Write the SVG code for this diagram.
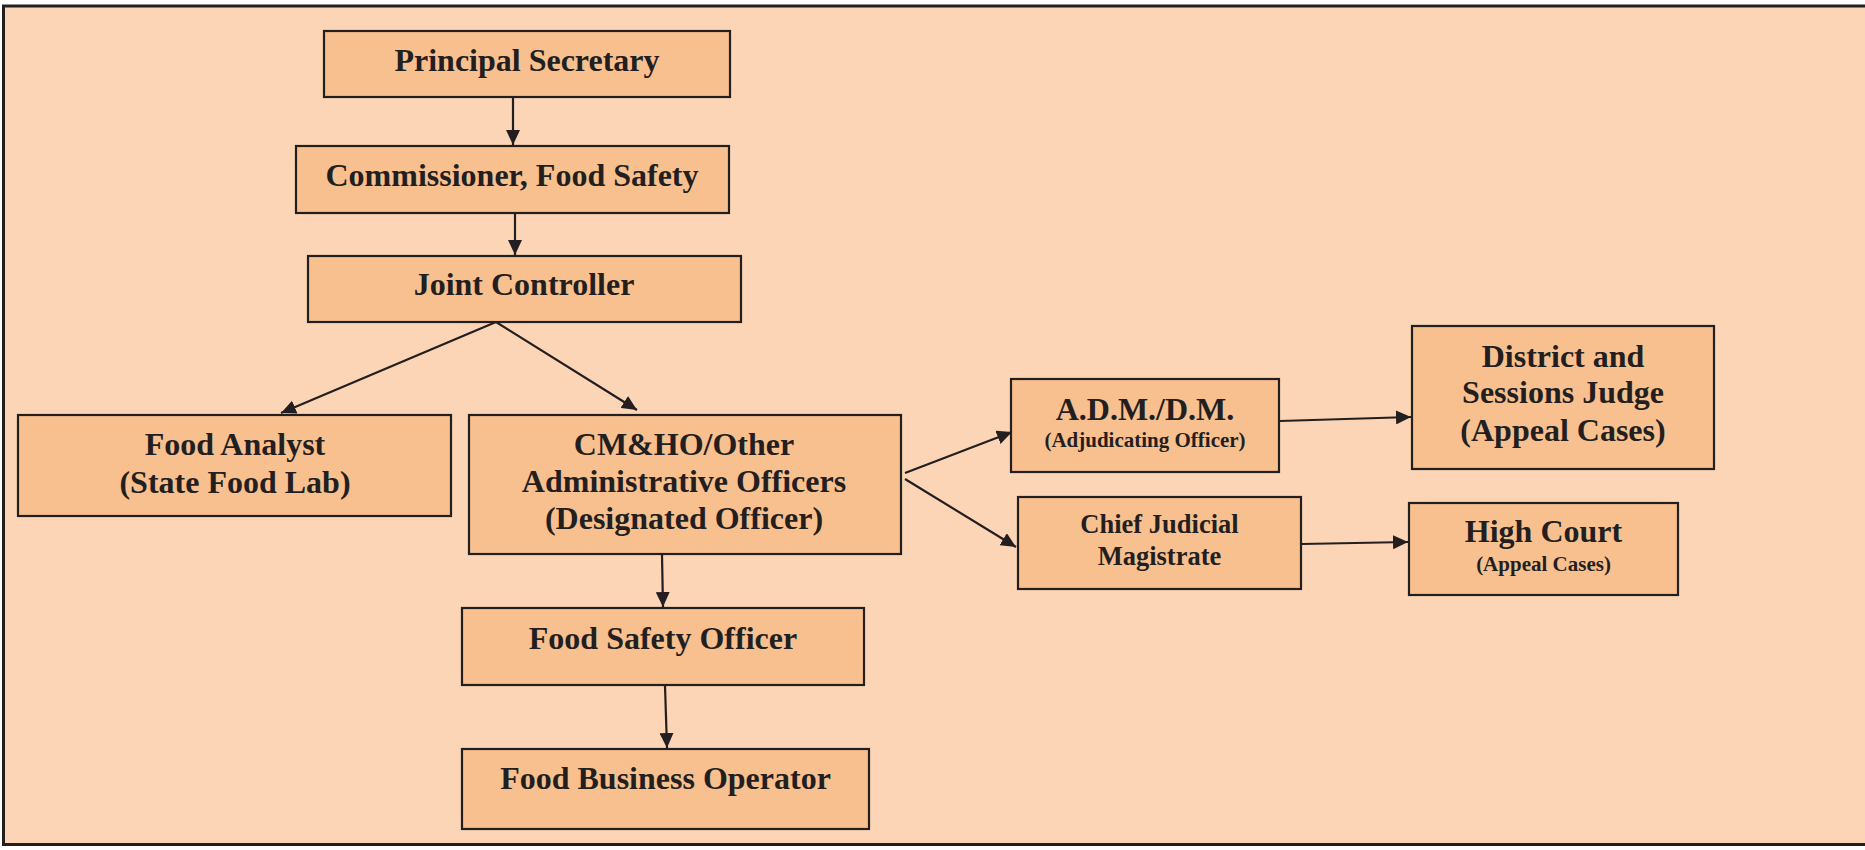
<svg xmlns="http://www.w3.org/2000/svg" width="1865" height="850" viewBox="0 0 1865 850">
<style>
.box{fill:#F9C08F;stroke:#231F20;stroke-width:2.2}
.t{font-family:"Liberation Serif","Times New Roman",serif;font-weight:bold;fill:#231F20;text-anchor:middle}
.l{font-size:32px}
.m{font-size:26.5px}
.s{font-size:21px}
.c{stroke:#231F20;stroke-width:2.2;fill:none;marker-end:url(#ah)}
</style>
<defs>
<marker id="ah" markerUnits="userSpaceOnUse" markerWidth="16" markerHeight="14" refX="15" refY="7" orient="auto">
<path d="M0,0 L15,7 L0,14 z" fill="#231F20"/>
</marker>
</defs>
<rect x="0" y="0" width="1865" height="850" fill="#ffffff"/>
<rect x="3.5" y="6" width="1875" height="838.5" fill="#FBD5B5" stroke="#231F20" stroke-width="3"/>
<g id="connectors">
<line class="c" x1="513" y1="98" x2="513" y2="145"/>
<line class="c" x1="515" y1="214" x2="515" y2="255"/>
<line class="c" x1="496" y1="322" x2="281" y2="413"/>
<line class="c" x1="496" y1="322" x2="637" y2="410"/>
<line class="c" x1="905" y1="473" x2="1012" y2="432"/>
<line class="c" x1="905" y1="479" x2="1016" y2="547"/>
<line class="c" x1="1280" y1="421" x2="1411" y2="417"/>
<line class="c" x1="1302" y1="544" x2="1408" y2="542"/>
<line class="c" x1="662" y1="555" x2="663" y2="607"/>
<line class="c" x1="665" y1="686" x2="667" y2="748"/>
</g>
<g id="principal-secretary">
<rect class="box" x="324" y="31" width="406" height="66"/>
<text class="t l" x="527" y="71">Principal Secretary</text>
</g>
<g id="commissioner">
<rect class="box" x="296" y="146" width="433" height="67"/>
<text class="t l" x="512" y="186">Commissioner, Food Safety</text>
</g>
<g id="joint-controller">
<rect class="box" x="308" y="256" width="433" height="66"/>
<text class="t l" x="524" y="295">Joint Controller</text>
</g>
<g id="food-analyst">
<rect class="box" x="18" y="415" width="433" height="101"/>
<text class="t l" x="235" y="455">Food Analyst</text>
<text class="t l" x="235" y="492.5">(State Food Lab)</text>
</g>
<g id="designated-officer">
<rect class="box" x="469" y="415" width="432" height="139"/>
<text class="t l" x="684" y="455">CM&amp;HO/Other</text>
<text class="t l" x="684" y="492">Administrative Officers</text>
<text class="t l" x="684" y="529">(Designated Officer)</text>
</g>
<g id="food-safety-officer">
<rect class="box" x="462" y="608" width="402" height="77"/>
<text class="t l" x="663" y="649">Food Safety Officer</text>
</g>
<g id="food-business-operator">
<rect class="box" x="462" y="749" width="407" height="80"/>
<text class="t l" x="665.5" y="789">Food Business Operator</text>
</g>
<g id="adm-dm">
<rect class="box" x="1011" y="379" width="268" height="93"/>
<text class="t l" x="1145" y="420">A.D.M./D.M.</text>
<text class="t s" x="1145" y="447">(Adjudicating Officer)</text>
</g>
<g id="district-sessions-judge">
<rect class="box" x="1412" y="326" width="302" height="143"/>
<text class="t l" x="1563" y="367">District and</text>
<text class="t l" x="1563" y="403">Sessions Judge</text>
<text class="t l" x="1563" y="441">(Appeal Cases)</text>
</g>
<g id="chief-judicial-magistrate">
<rect class="box" x="1018" y="497" width="283" height="92"/>
<text class="t m" x="1159.5" y="533">Chief Judicial</text>
<text class="t m" x="1159.5" y="565">Magistrate</text>
</g>
<g id="high-court">
<rect class="box" x="1409" y="503" width="269" height="92"/>
<text class="t l" x="1543.5" y="542">High Court</text>
<text class="t s" x="1543.5" y="571">(Appeal Cases)</text>
</g>
</svg>
